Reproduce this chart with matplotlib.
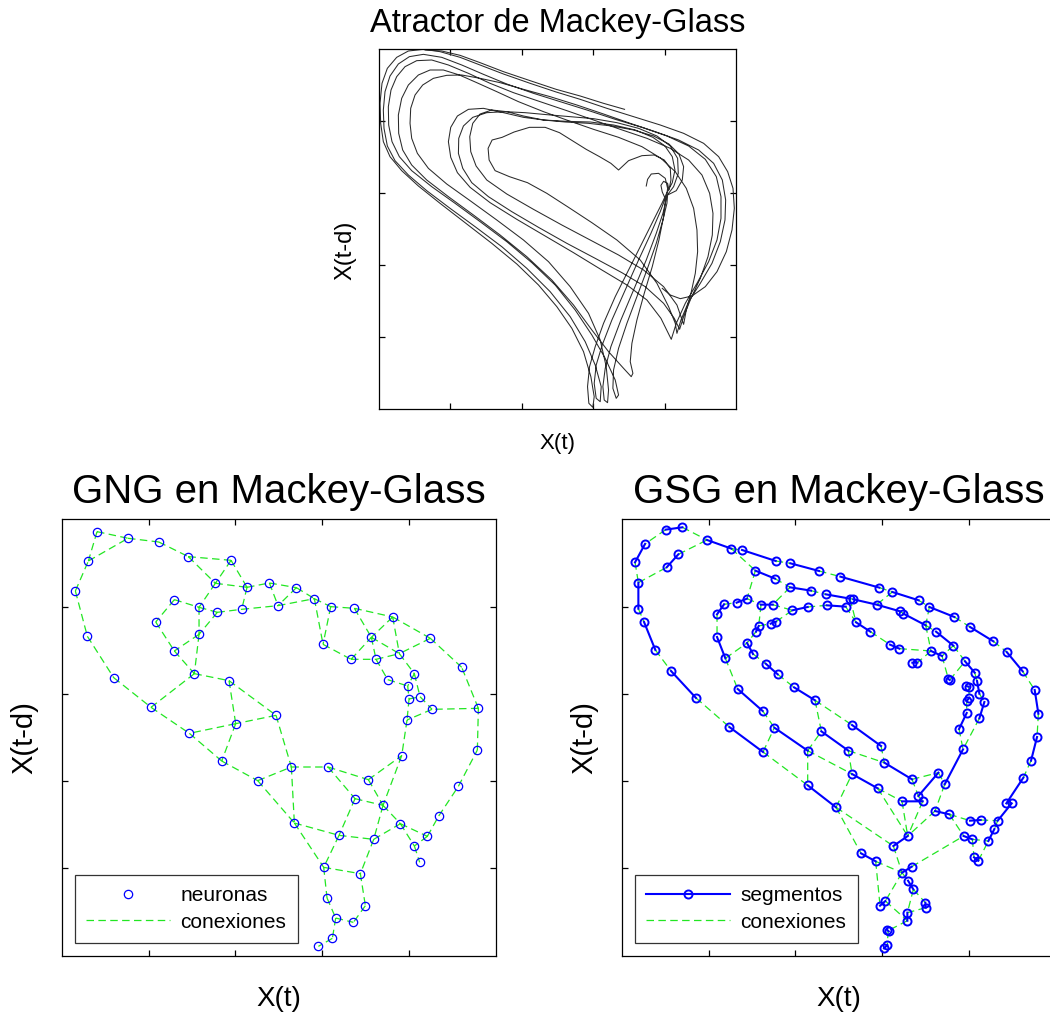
import numpy as np
import matplotlib
matplotlib.use('Agg')
import matplotlib.pyplot as plt

plt.rcParams['font.family'] = ['Liberation Sans', 'DejaVu Sans']

# ------------------------------------------------------------------
# Datos (coordenadas en pixeles de la imagen
# ampliada x3); se pasan a unidades X(t) / X(t-d) mas abajo.
# ------------------------------------------------------------------

# atractor: trozos de la trayectoria (marco x 27..1097, y 27..1107)
mg_s0 = [(876,745),(900,765),(930,776),(965,768),(1005,740),(1040,695),(1068,635),(1085,570),
         (1092,505),(1088,445),(1072,395),(1045,350),(1000,310),(940,280),(870,255),(790,230),
         (710,205),(630,178),(558,156),(480,130),(400,102),(330,75),(270,52),(210,35),(160,28),
         (115,33),(80,52),(52,85),(36,130),(30,190),(32,250),(40,305),(60,350),(95,392),(145,438),
         (210,490),(285,548),(365,610),(440,672),(505,735),(560,800),(605,865),(640,935),(662,1010),
         (672,1070),(668,1102),(656,1090),(652,1040),(658,980),(675,920),(700,850),(735,770),
         (775,690),(815,610),(850,540),(875,490),(888,462)]
mg_s1 = [(888,462),(906,428),(914,390),(906,350),(884,318),(848,292),(795,270),(730,255),(660,246),
         (590,244),(520,240),(460,232),(400,218),(340,205),(295,208),(262,228),(242,262),(235,305),
         (242,352),(262,398),(300,442),(360,488),(440,538),(525,588),(610,638),(695,690),(770,735),
         (830,780),(872,835),(903,898)]
mg_s2 = [(903,898),(918,850),(945,790),(980,730),(1015,665),(1040,600),(1052,535),(1052,470),
         (1038,410),(1005,358),(955,318),(890,288),(815,262),(735,238),(650,210),(570,185),(490,160),
         (410,132),(340,103),(275,75),(215,52),(160,43),(118,50),(85,72),(60,108),(45,155),(40,210),
         (42,265),(52,318),(75,362),(115,405),(170,452),(240,505),(315,560),(395,620),(470,685),
         (540,755),(600,830),(645,905),(675,975),(693,1040),(690,1085),(678,1075),(672,1030),
         (678,975),(696,915),(725,840),(765,750),(805,660),(842,580),(870,515),(886,472)]
mg_s3 = [(886,472),(910,440),(924,400),(922,355),(900,318),(860,288),(805,265),(740,248),(670,236),
         (600,230),(530,224),(465,218),(405,215),(350,218),(308,232),(280,258),(266,295),(265,340),
         (278,385),(305,428),(355,470),(425,515),(505,562),(590,610),(675,655),(755,698),(825,740),
         (880,790),(912,835),(928,868)]
mg_s4 = [(928,868),(940,830),(962,775),(990,715),(1013,650),(1026,585),(1028,520),(1018,460),
         (995,405),(955,360),(900,325),(830,295),(750,268),(670,240),(590,212),(510,185),(430,158),
         (360,130),(295,100),(235,75),(185,60),(140,62),(105,80),(80,110),(63,150),(55,200),(56,255),
         (66,305),(88,350),(125,392),(185,440),(255,490),(330,545),(410,605),(485,668),(555,735),
         (615,810),(665,885),(705,955),(735,1020),(745,1065),(738,1075),(728,1045),(730,990),
         (745,925),(770,850),(800,770),(830,690),(858,610),(878,540),(890,490),(892,465)]
mg_s5 = [(892,465),(918,452),(936,420),(940,380),(926,342),(896,312),(850,288),(790,270),(725,258),
         (655,250),(585,246),(520,240),(460,228),(410,215),(365,210),(330,222),(308,250),(299,290),
         (302,335),(318,378),(350,420),(410,462),(490,508),(575,555),(660,600),(745,645),(820,690),
         (880,740),(920,795),(940,853)]
mg_s6 = [(940,853),(948,810),(962,760),(975,700),(982,635),(980,570),(970,505),(948,445),(915,395),
         (872,355),(815,320),(745,292),(670,268),(595,242),(520,215),(445,185),(380,155),(320,128),
         (268,105),(220,90),(180,90),(145,105),(115,135),(95,175),(85,225),(86,280),(98,330),
         (125,375),(170,420),(235,470),(310,525),(390,585),(470,650),(545,720),(610,795),(665,870),
         (715,935),(760,985),(783,1010),(788,1000),(780,965),(785,910),(800,840),(822,760),(846,680),
         (866,600),(880,530),(886,478)]
mg_s7 = [(886,478),(876,456),(872,436),(880,424),(892,430),(896,450),(902,420),(900,385),(882,360),
         (852,345),(815,347),(775,362),(745,390),(722,370),(688,350),(648,328),(608,303),(568,278),
         (525,262),(478,262),(432,276),(396,292),(366,300),(354,325),(357,360),(375,392),(418,410),
         (472,428),(530,460),(595,502),(665,548),(740,600),(810,660),(860,730),(895,800),(915,850),
         (920,880)]
mg_s8 = [(920,880),(932,840),(955,785),(990,730),(1025,670),(1050,605),(1064,540),(1066,480),
         (1056,420),(1030,370),(985,330),(925,300),(855,275),(780,250),(700,222),(620,195),(540,170),
         (460,148),(390,128),(330,115),(275,105),(230,106),(190,115),(158,135),(135,165),(122,205),
         (120,250),(125,295),(142,340),(175,385),(230,432),(300,482),(380,540),(460,600),(535,665),
         (600,740),(655,820),(690,900),(708,980),(715,1050),(712,1088),(702,1080),(698,1040),
         (705,985),(722,920),(752,840),(790,750),(828,660),(858,580),(878,520),(888,478),(892,445),
         (885,415),(865,400),(843,402),(832,418),(828,438)]
mg_extra = [(763,208),(700,190),(630,168),(558,148),(480,122),(400,95),(330,68),(270,46),(215,33),
            (165,30)]

# GNG: neuronas (marco x 20..1322, y 28..1337)
gng_nodes = [(126,65),(219,85),(311,96),(400,140),(528,151),(100,153),(61,243),(481,220),(576,232),
             (643,219),(724,233),(358,269),(432,292),(487,307),(560,298),(669,287),(778,266),
             (827,290),(898,295),(1013,321),(302,336),(432,373),(97,379),(804,403),(949,382),
             (1126,385),(358,423),(888,448),(963,448),(1033,431),(1220,472),(418,491),(176,503),
             (522,512),(1078,491),(998,509),(1058,528),(1062,567),(1095,560),(1131,598),(1270,595),
             (288,592),(663,616),(1056,630),(542,641),(403,670),(1267,720),(1040,737),(500,753),
             (709,771),(819,771),(608,812),(940,809),(1210,829),(900,866),(984,886),(1151,918),
             (718,939),(1036,941),(852,976),(956,988),(1117,979),(1078,1008),(1094,1057),(806,1072),
             (916,1091),(816,1164),(931,1187),(842,1224),(895,1237),(832,1285),(790,1309)]
# conexiones entre neuronas (numeradas desde 1)
gng_edges = [(1,2),(1,6),(6,2),(2,3),(3,4),(4,5),(4,8),(5,8),(5,9),(8,9),(9,10),(10,11),(9,15),
             (10,16),(11,16),(11,17),(8,13),(12,13),(13,14),(14,15),(15,16),(16,17),(17,18),(18,19),
             (19,20),(17,24),(18,24),(12,21),(21,27),(13,22),(14,22),(22,27),(22,32),(27,32),(7,6),
             (7,23),(23,33),(33,42),(32,42),(32,34),(34,43),(34,45),(42,46),(45,46),(43,45),(46,49),
             (45,49),(43,50),(49,52),(52,50),(50,51),(50,58),(52,58),(51,53),(51,55),(53,48),(53,56),
             (55,56),(48,56),(56,61),(56,59),(55,60),(58,60),(60,61),(61,59),(59,62),(59,63),(62,63),
             (62,57),(57,54),(54,47),(47,41),(41,40),(41,31),(31,26),(26,20),(26,30),(20,25),(20,30),
             (19,25),(25,30),(25,29),(24,28),(28,25),(28,29),(29,30),(29,36),(30,35),(36,37),(35,37),
             (35,39),(37,38),(38,39),(39,40),(38,44),(40,44),(44,48),(60,65),(58,65),(65,66),(61,66),
             (65,67),(66,68),(67,69),(68,70),(69,70),(69,71),(71,72),(63,64)]

# GSG: segmentos (mismo marco que GNG)
gsg_segments = [
    [(152,59),(202,52)], [(90,102),(60,157)], [(70,218),(70,296)], [(87,336),(121,420)],
    [(168,483),(243,564)], [(343,651),(444,726)], [(578,826),(663,892)], [(738,1030),(782,1054)],
    [(155,172),(190,133)], [(276,90),(349,116)], [(381,120),(482,153)], [(526,160),(612,183)],
    [(676,200),(793,233)], [(832,246),(911,271)], [(943,291),(1018,321)], [(1065,351),(1135,394)],
    [(1175,426),(1223,484)], [(1259,540),(1270,611)], [(1266,681),(1248,752)],
    [(1225,803),(1174,880)], [(1190,880),(1148,932)], [(1138,957),(1120,993)],
    [(421,182),(480,206)], [(525,232),(588,242)], [(632,253),(705,266)],
    [(715,268),(785,284),(855,304)], [(865,311),(932,346)], [(963,365),(1015,407)],
    [(1050,454),(1079,488)], [(1086,513),(1093,551)], [(1108,576),(1093,625)],
    [(1044,718),(989,823)], [(970,788),(910,858)],
    [(306,313),(327,283)], [(365,278),(396,266)], [(438,284),(473,284)], [(532,301),(578,291)],
    [(635,286),(692,290)], [(723,337),(766,365)], [(825,404),(853,416)], [(892,458),(907,458)],
    [(948,423),(981,438)], [(1053,528),(1061,530)], [(1063,563),(1055,573)],
    [(1055,609),(1032,657)], [(1000,507),(1004,510)],
    [(431,348),(423,365)], [(467,341),(483,335)], [(396,399),(414,432)], [(452,461),(488,493)],
    [(537,532),(600,571)], [(711,645),(798,708)], [(808,758),(891,808)],
    [(306,381),(331,445)], [(368,537),(443,603)], [(478,653),(578,722)], [(619,664),(700,722)],
    [(711,792),(788,835)], [(861,874),(923,874)], [(960,903),(1003,913)], [(1065,932),(1097,930)],
    [(878,978),(835,1008)], [(890,1070),(861,1088)], [(879,1112),(895,1138)],
    [(811,1173),(795,1187)], [(931,1178),(932,1193)], [(877,1208),(877,1232)],
    [(817,1260),(821,1264)], [(817,1305),(807,1315)], [(1046,978),(1072,988)],
    [(1077,1042),(1090,1052)],
]
# GSG: conexiones
gsg_links = [
    ((202,52),(276,90)), ((152,59),(90,102)), ((60,157),(70,218)), ((70,296),(87,336)),
    ((121,420),(168,483)), ((243,564),(343,651)), ((444,726),(578,826)), ((663,892),(738,1030)),
    ((70,218),(155,172)), ((190,133),(276,90)), ((349,116),(381,120)), ((349,116),(421,182)),
    ((482,153),(526,160)), ((612,183),(676,200)), ((793,233),(832,246)), ((911,271),(943,291)),
    ((1018,321),(1065,351)), ((1135,394),(1175,426)), ((1223,484),(1259,540)),
    ((1270,611),(1266,681)), ((1248,752),(1225,803)), ((1174,880),(1190,880)),
    ((1148,932),(1138,957)), ((421,182),(396,266)), ((480,206),(525,232)), ((588,242),(632,253)),
    ((705,266),(715,268)), ((855,304),(865,311)), ((832,246),(785,284)), ((525,232),(473,284)),
    ((438,284),(431,348)), ((473,284),(532,301)), ((578,291),(635,286)), ((327,283),(365,278)),
    ((396,266),(438,284)), ((306,313),(306,381)), ((483,335),(532,301)), ((331,445),(396,399)),
    ((331,445),(368,537)), ((423,365),(396,399)), ((431,348),(467,341)), ((414,432),(452,461)),
    ((488,493),(537,532)), ((443,603),(478,653)), ((600,571),(619,664)), ((600,571),(711,645)),
    ((444,726),(478,653)), ((578,722),(619,664)), ((578,722),(578,826)), ((578,722),(711,792)),
    ((700,722),(808,758)), ((700,722),(711,792)), ((798,708),(808,758)), ((663,892),(711,792)),
    ((663,892),(835,1008)), ((788,835),(878,978)), ((788,835),(861,874)), ((891,808),(910,858)),
    ((970,788),(989,823)), ((891,808),(970,788)), ((861,874),(878,978)), ((923,874),(878,978)),
    ((960,903),(878,978)), ((910,858),(923,874)), ((989,823),(960,903)), ((1003,913),(1065,932)),
    ((1097,930),(1148,932)), ((890,1070),(1046,978)), ((1003,913),(1046,978)),
    ((1072,988),(1077,1042)), ((1090,1052),(1120,993)), ((1072,988),(1120,993)),
    ((782,1054),(861,1088)), ((835,1008),(861,1088)), ((782,1054),(795,1187)),
    ((861,1088),(811,1173)), ((861,1088),(879,1112)), ((895,1138),(931,1178)),
    ((895,1138),(877,1208)), ((811,1173),(877,1232)), ((932,1193),(877,1208)),
    ((877,1232),(819,1262)), ((819,1262),(817,1305)), ((943,291),(932,346)),
    ((932,346),(948,423)), ((932,346),(963,365)), ((1015,407),(1050,454)), ((1015,407),(981,438)),
    ((948,423),(907,458)), ((853,416),(948,423)), ((766,365),(825,404)), ((692,290),(723,337)),
    ((705,266),(723,337)), ((981,438),(1000,507)), ((1004,510),(1050,454)),
    ((1079,488),(1086,513)), ((1093,551),(1108,576)), ((1061,530),(1063,563)),
    ((1055,573),(1055,609)), ((1093,625),(1044,718)), ((1032,657),(1044,718)),
]

TICKS = [0.5, 0.7, 0.9, 1.1]


def top_xy(pts):
    a = np.array(pts, dtype=float)
    return 0.3 + (a[:, 0] - 27) / 1070, 0.3 + (1107 - a[:, 1]) / 1080


def bot_xy(pts):
    a = np.array(pts, dtype=float)
    return 0.3 + (a[:, 0] - 20) / 1302, 0.3 + (1337 - a[:, 1]) / 1309


def with_gaps(pieces):
    # une varios trozos en un solo array separados por NaN
    xs, ys = [], []
    for p in pieces:
        x, y = bot_xy(p)
        xs += list(x) + [np.nan]
        ys += list(y) + [np.nan]
    return xs, ys


def style(ax):
    ax.set_xlim(0.3, 1.3)
    ax.set_ylim(0.3, 1.3)
    ax.set_xticks(TICKS)
    ax.set_yticks(TICKS)
    ax.set_xticklabels([])
    ax.set_yticklabels([])
    ax.tick_params(direction='in', length=4, width=0.9, top=True, right=True, color='black')
    for s in ax.spines.values():
        s.set_linewidth(0.9)
        s.set_color('black')


fig = plt.figure(figsize=(10.5, 10.15), dpi=100)

# --- atractor ---
ax1 = fig.add_axes([379 / 1050, (1015 - 409) / 1015, 357 / 1050, 360 / 1015])
main = mg_s0 + mg_s1 + mg_s2 + mg_s3 + mg_s4 + mg_s5 + mg_s6 + mg_s7 + mg_s8
x, y = top_xy(main)
ax1.plot(x, y, color='#2a2a2a', lw=0.75)
x, y = top_xy(mg_extra)
ax1.plot(x, y, color='#2a2a2a', lw=0.75)
style(ax1)
ax1.set_title('Atractor de Mackey-Glass', fontsize=23.5, pad=12)
ax1.set_xlabel('X(t)', fontsize=16, labelpad=14)
ax1.set_ylabel('X(t-d)', fontsize=17)
ax1.yaxis.set_label_coords(-0.062, 0.44)

green = '#22e622'
blue = '#0000ff'

# --- GNG ---
ax2 = fig.add_axes([61.7 / 1050, (1015 - 955.7) / 1015, 434 / 1050, 436.4 / 1015])
ex, ey = with_gaps([[gng_nodes[a - 1], gng_nodes[b - 1]] for a, b in gng_edges])
nx, ny = bot_xy(gng_nodes)
ax2.plot(nx, ny, 'o', ls='none', mfc='none', mec=blue, ms=6, mew=0.9, label='neuronas', zorder=3)
ax2.plot(ex, ey, color=green, lw=0.9, dashes=(6, 3.5), label='conexiones', zorder=2)
style(ax2)
ax2.set_title('GNG en Mackey-Glass', fontsize=29, pad=12)
ax2.set_xlabel('X(t)', fontsize=20, labelpad=18)
ax2.set_ylabel('X(t-d)', fontsize=21, labelpad=13)

# --- GSG ---
ax3 = fig.add_axes([621.7 / 1050, (1015 - 955.7) / 1015, 434 / 1050, 436.4 / 1015])
lx, ly = with_gaps([list(l) for l in gsg_links])
sx, sy = with_gaps(gsg_segments)
ax3.plot(sx, sy, '-o', color=blue, lw=1.5, mfc='none', mec=blue, ms=5.8, mew=1.4,
         label='segmentos', zorder=3)
ax3.plot(lx, ly, color=green, lw=0.9, dashes=(6, 3.5), label='conexiones', zorder=2)
style(ax3)
ax3.set_title('GSG en Mackey-Glass', fontsize=29, pad=12)
ax3.set_xlabel('X(t)', fontsize=20, labelpad=18)
ax3.set_ylabel('X(t-d)', fontsize=21, labelpad=13)

for ax in (ax2, ax3):
    leg = ax.legend(loc='lower left', bbox_to_anchor=(0.0306, 0.0291), borderaxespad=0,
                    fontsize=15, numpoints=1, handlelength=4.0, handletextpad=0.5,
                    borderpad=0.55, labelspacing=0.35, fancybox=False, framealpha=1)
    leg.get_frame().set_edgecolor('#333333')
    leg.get_frame().set_linewidth(0.9)

fig.savefig('out.png', dpi=100)
